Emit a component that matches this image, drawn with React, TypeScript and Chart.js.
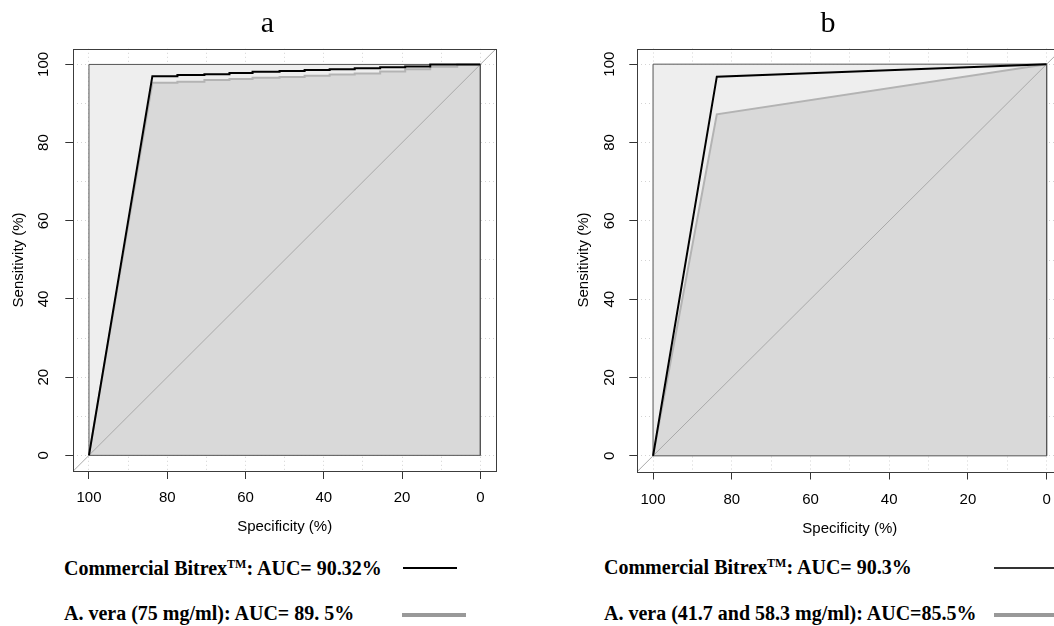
import React, { useEffect, useRef } from "react";
import { Chart, registerables } from "chart.js";

Chart.register(...registerables);

// ---------- data ----------
const AXIS_MIN = -4;
const AXIS_MAX = 104;
const GRID_VALUES = [0, 10, 20, 30, 40, 50, 60, 70, 80, 90, 100];
const LABELED_VALUES = [0, 20, 40, 60, 80, 100];

const SQUARE_SPEC = [100, 100, 0, 0, 100];
const SQUARE_SENS = [0, 100, 100, 0, 0];
const SQUARE_TOP_SPEC = [100, 0];
const SQUARE_TOP_SENS = [100, 100];
const DIAG_SPEC = [104, -4];
const DIAG_SENS = [-4, 104];

// Panel a : stepped ROC curves (specificity positions of the steps, sensitivity level after each step)
const A_STEP_SPEC = [83.8, 77.4, 70.5, 64.1, 58.2, 51.3, 44.9, 38.5, 32.1, 25.6, 19.2, 12.8, 5.9];
const A_BITREX_SENS = [97.0, 97.3, 97.5, 97.8, 98.1, 98.3, 98.6, 98.8, 99.0, 99.3, 99.5, 100, 100];
const A_ALOE_SENS = [95.3, 95.6, 96.0, 96.3, 96.6, 96.8, 97.1, 97.4, 97.7, 98.2, 98.8, 99.4, 100];

// Panel b : simple ROC curves
const B_SPEC = [100, 83.8, 0];
const B_BITREX_SENS = [0, 96.8, 100];
const B_ALOE_SENS = [0, 87.2, 100];

const ROC_START_SPEC = 100;
const ROC_START_SENS = 0;
const ROC_END_SPEC = 0;

const X_TITLE = "Specificity (%)";
const Y_TITLE = "Sensitivity (%)";

// ---------- helpers ----------
type P = { x: number; y: number };
const pts = (xs: number[], ys: number[]): P[] => xs.map((x, i) => ({ x, y: ys[i] }));

function stairs(spec: number[], sens: number[]): P[] {
  const out: P[] = [{ x: ROC_START_SPEC, y: ROC_START_SENS }];
  spec.forEach((s, i) => {
    if (i > 0) out.push({ x: s, y: sens[i - 1] });
    out.push({ x: s, y: sens[i] });
  });
  out.push({ x: ROC_END_SPEC, y: sens[sens.length - 1] });
  return out;
}

const SANS = '"Liberation Sans", Arial, sans-serif';
const SERIF = '"Liberation Serif", "Times New Roman", serif';

type PanelCfg = {
  left: number;
  width: number;
  height: number;
  padLeft: number;
  padTop: number;
  padRight: number;
  yAxisWidth: number;
  xAxisHeight: number;
  yTickPad: number;
  xTickPad: number;
  xTitlePadBottom: number;
  bitrex: P[];
  aloe: P[];
};

const framePlugin = {
  id: "frame",
  afterDatasetsDraw(chart: any) {
    const { ctx, chartArea: a } = chart;
    ctx.save();
    ctx.strokeStyle = "#3c3c3c";
    ctx.lineWidth = 1;
    ctx.setLineDash([]);
    const l = Math.round(a.left) + 0.5;
    const t = Math.round(a.top) + 0.5;
    ctx.strokeRect(l, t, Math.round(a.right) - Math.round(a.left), Math.round(a.bottom) - Math.round(a.top));
    ctx.restore();
  },
};

function makeConfig(p: PanelCfg): any {
  const grid = {
    color: "#d3d3d3",
    lineWidth: 1,
    drawOnChartArea: true,
    drawTicks: true,
    tickLength: 8,
    tickWidth: 1,
    tickBorderDash: [],
    tickColor: (c: any) =>
      c.tick && LABELED_VALUES.includes(c.tick.value) ? "#333333" : "rgba(0,0,0,0)",
  };
  const border = { display: false, dash: [1, 3] };
  const tickFont = { family: SANS, size: 15 };
  return {
    type: "line",
    data: {
      datasets: [
        { label: "bitrex", data: p.bitrex, borderColor: "#000000", borderWidth: 2, fill: false, order: 1 },
        { label: "aloe", data: p.aloe, borderColor: "#b3b3b3", borderWidth: 2, fill: false, order: 2 },
        { label: "square", data: pts(SQUARE_SPEC, SQUARE_SENS), borderColor: "#555555", borderWidth: 1, fill: false, order: 3 },
        { label: "diag", data: pts(DIAG_SPEC, DIAG_SENS), borderColor: "#a9a9a9", borderWidth: 1, fill: false, order: 4 },
        { label: "auc", data: p.aloe, borderColor: "rgba(0,0,0,0)", borderWidth: 0, backgroundColor: "#d9d9d9", fill: { value: 0 }, order: 5 },
        { label: "max", data: pts(SQUARE_TOP_SPEC, SQUARE_TOP_SENS), borderColor: "rgba(0,0,0,0)", borderWidth: 0, backgroundColor: "#eeeeee", fill: { value: 0 }, order: 6 },
      ],
    },
    options: {
      animation: false,
      responsive: false,
      maintainAspectRatio: false,
      events: [],
      layout: { padding: { left: p.padLeft, top: p.padTop, right: p.padRight, bottom: 0 } },
      elements: { point: { radius: 0, hoverRadius: 0 }, line: { tension: 0, borderJoinStyle: "miter" } },
      plugins: { legend: { display: false }, tooltip: { enabled: false }, title: { display: false } },
      scales: {
        x: {
          type: "linear",
          position: "bottom",
          reverse: true,
          min: AXIS_MIN,
          max: AXIS_MAX,
          afterBuildTicks: (s: any) => {
            s.ticks = GRID_VALUES.map((v) => ({ value: v }));
          },
          afterFit: (s: any) => {
            s.height = p.xAxisHeight;
          },
          ticks: {
            autoSkip: false,
            minRotation: 0,
            maxRotation: 0,
            padding: p.xTickPad,
            color: "#000000",
            font: tickFont,
            callback: (v: number) => (LABELED_VALUES.includes(v) ? String(v) : ""),
          },
          grid,
          border,
          title: {
            display: true,
            text: X_TITLE,
            color: "#000000",
            font: { family: SANS, size: 15 },
            padding: { top: 0, bottom: p.xTitlePadBottom },
          },
        },
        y: {
          type: "linear",
          position: "left",
          min: AXIS_MIN,
          max: AXIS_MAX,
          afterBuildTicks: (s: any) => {
            s.ticks = GRID_VALUES.map((v) => ({ value: v }));
          },
          afterFit: (s: any) => {
            s.width = p.yAxisWidth;
          },
          ticks: {
            autoSkip: false,
            minRotation: 90,
            maxRotation: 90,
            crossAlign: "center",
            padding: p.yTickPad,
            color: "#000000",
            font: tickFont,
            callback: (v: number) => (LABELED_VALUES.includes(v) ? String(v) : ""),
          },
          grid,
          border,
          title: {
            display: true,
            text: Y_TITLE,
            color: "#000000",
            font: { family: SANS, size: 15 },
            padding: { top: 0, bottom: 0 },
          },
        },
      },
    },
    plugins: [framePlugin],
  };
}

const PANEL_A: PanelCfg = {
  left: 0,
  width: 527,
  height: 536,
  padLeft: 10,
  padTop: 48.8,
  padRight: 31,
  yAxisWidth: 63.3,
  xAxisHeight: 65,
  yTickPad: 8.8,
  xTickPad: 9.7,
  xTitlePadBottom: 0,
  bitrex: stairs(A_STEP_SPEC, A_BITREX_SENS),
  aloe: stairs(A_STEP_SPEC, A_ALOE_SENS),
};

const PANEL_B: PanelCfg = {
  left: 564,
  width: 528,
  height: 538,
  padLeft: 11,
  padTop: 48.5,
  padRight: 29.6,
  yAxisWidth: 62.3,
  xAxisHeight: 66.5,
  yTickPad: 6.8,
  xTickPad: 11.5,
  xTitlePadBottom: 0.5,
  bitrex: pts(B_SPEC, B_BITREX_SENS),
  aloe: pts(B_SPEC, B_ALOE_SENS),
};

function Panel({ cfg }: { cfg: PanelCfg }) {
  const ref = useRef<HTMLCanvasElement | null>(null);
  useEffect(() => {
    if (!ref.current) return;
    const chart = new Chart(ref.current, makeConfig(cfg));
    return () => chart.destroy();
  }, [cfg]);
  return (
    <canvas
      ref={ref}
      width={cfg.width}
      height={cfg.height}
      style={{ position: "absolute", left: cfg.left, top: 0, width: cfg.width, height: cfg.height }}
    />
  );
}

const legendText: React.CSSProperties = {
  position: "absolute",
  font: `bold 20px ${SERIF}`,
  lineHeight: "20px",
  whiteSpace: "nowrap",
  color: "#000",
};
const sup: React.CSSProperties = { fontSize: 12, lineHeight: 0, verticalAlign: "7px" };
const titleStyle: React.CSSProperties = {
  position: "absolute",
  width: 100,
  textAlign: "center",
  font: `30px ${SERIF}`,
  lineHeight: "30px",
  color: "#000",
};

export default function App() {
  return (
    <div
      style={{
        position: "fixed",
        left: 0,
        top: 0,
        width: 1054,
        height: 626,
        overflow: "hidden",
        background: "#ffffff",
      }}
    >
      <Panel cfg={PANEL_A} />
      <Panel cfg={PANEL_B} />
      <div style={{ ...titleStyle, left: 217.5, top: 6.6 }}>a</div>
      <div style={{ ...titleStyle, left: 778, top: 6.6 }}>b</div>

      <div style={{ ...legendText, left: 64, top: 558.3 }}>
        Commercial Bitrex<sup style={sup}>TM</sup>: AUC= 90.32%
      </div>
      <div style={{ position: "absolute", left: 403, top: 566.8, width: 54, height: 2, background: "#000" }} />
      <div style={{ ...legendText, left: 64, top: 602.5 }}>A. vera (75 mg/ml): AUC= 89. 5%</div>
      <div style={{ position: "absolute", left: 402, top: 612.7, width: 64, height: 4, background: "#999" }} />

      <div style={{ ...legendText, left: 604, top: 557.3 }}>
        Commercial Bitrex<sup style={sup}>TM</sup>: AUC= 90.3%
      </div>
      <div style={{ position: "absolute", left: 994, top: 567, width: 80, height: 2, background: "#333" }} />
      <div style={{ ...legendText, left: 604, top: 603.3 }}>A. vera (41.7 and 58.3 mg/ml): AUC=85.5%</div>
      <div style={{ position: "absolute", left: 994, top: 613.3, width: 80, height: 4, background: "#999" }} />
    </div>
  );
}
